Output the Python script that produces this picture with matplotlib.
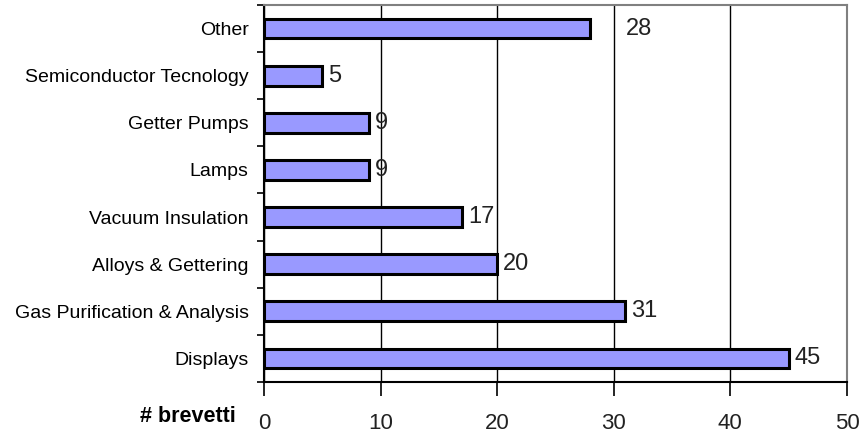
import matplotlib
matplotlib.use('Agg')
import matplotlib.pyplot as plt

categories = ['Displays', 'Gas Purification & Analysis', 'Alloys & Gettering',
              'Vacuum Insulation', 'Lamps', 'Getter Pumps',
              'Semiconductor Tecnology', 'Other']
counts = [45, 31, 20, 17, 9, 9, 5, 28]
xticks = [0, 10, 20, 30, 40, 50]

plt.rcParams['font.family'] = ['Liberation Sans', 'DejaVu Sans']

fig = plt.figure(figsize=(8.61, 4.33), dpi=100)
ax = fig.add_axes([0.3066, 0.1178, 0.6771, 0.8707])

pos = list(range(len(categories)))
ax.barh(pos, counts, height=0.42, color='#9999FF', edgecolor='black',
        linewidth=2.2, zorder=3)

for p, c, name in zip(pos, counts, categories):
    # Excel placed the "Other" label well away from its bar
    off = 3.0 if name == 'Other' else 0.5
    ax.text(c + off, p, str(c), va='center', ha='left', fontsize=17,
            color='#222222', zorder=4)

ax.set_xlim(0, 50)
ax.set_ylim(-0.5, len(categories) - 0.5)
ax.set_xticks(xticks)
ax.set_xticklabels([str(t) for t in xticks], fontsize=16, color='#222222')
ax.xaxis.grid(True, color='black', linewidth=1, zorder=0)

ax.set_yticks(pos)
ax.set_yticklabels(categories, fontsize=14)
ax.set_yticks([p - 0.5 for p in pos] + [len(pos) - 0.5], minor=True)
ax.tick_params(axis='y', which='major', length=0, pad=11)
ax.tick_params(axis='y', which='minor', length=5, width=1.2, direction='out')
ax.tick_params(axis='x', length=10, width=1.2, direction='out', pad=12)

for side in ('left', 'bottom'):
    ax.spines[side].set_color('black')
    ax.spines[side].set_linewidth(1.5)
for side in ('top', 'right'):
    ax.spines[side].set_color('#808080')
    ax.spines[side].set_linewidth(1.5)

fig.text(0.274, 0.039, '# brevetti', fontsize=15.5, fontweight='bold',
         ha='right', va='center')

fig.savefig('out.png', dpi=100)
